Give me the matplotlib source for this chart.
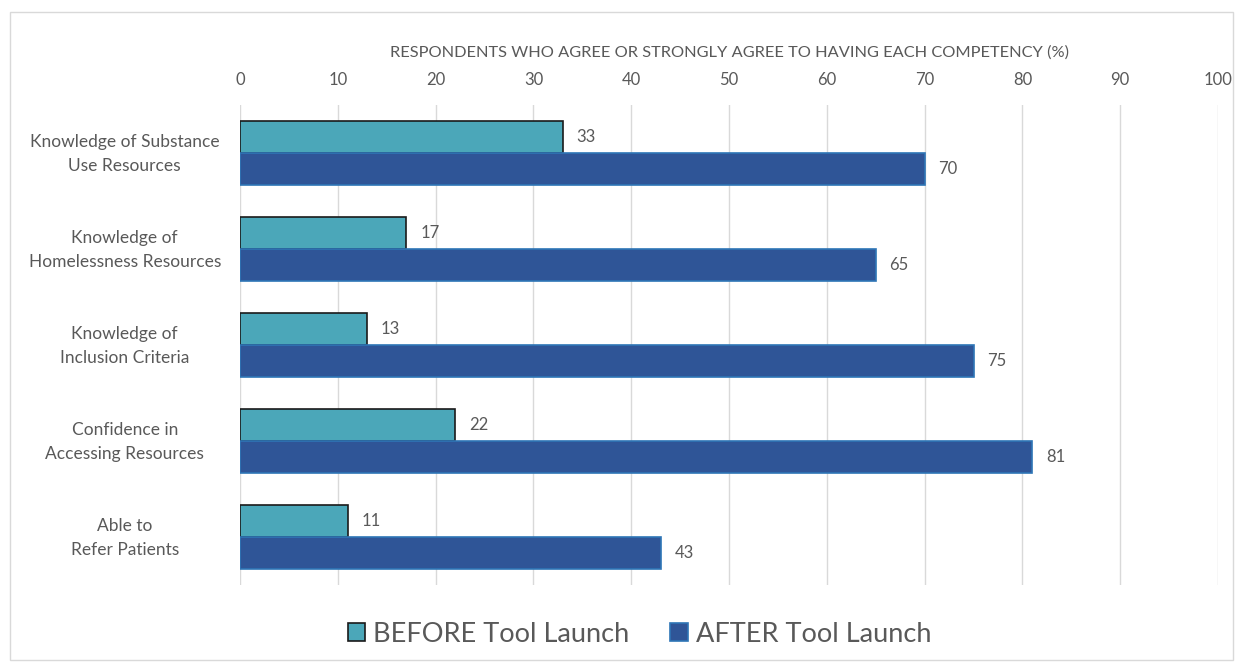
import matplotlib
matplotlib.use('Agg')
import matplotlib.pyplot as plt
import numpy as np
from matplotlib.patches import Rectangle

plt.rcParams['font.family'] = ['Lato', 'DejaVu Sans']

categories = ['Knowledge of Substance\nUse Resources',
              'Knowledge of\nHomelessness Resources',
              'Knowledge of\nInclusion Criteria',
              'Confidence in\nAccessing Resources',
              'Able to\nRefer Patients']
before = [33, 17, 13, 22, 11]
after = [70, 65, 75, 81, 43]
series_names = ['BEFORE Tool Launch', 'AFTER Tool Launch']

grey = '#595959'
fig = plt.figure(figsize=(12.43, 6.66), dpi=100)
fig.patches.append(Rectangle((10 / 1243, 6 / 666), 1223 / 1243, 648 / 666,
                             transform=fig.transFigure, fill=False,
                             edgecolor='#D9D9D9', linewidth=1))
ax = fig.add_axes([0.1931, 0.1216, 0.7868, 0.7207])

y = np.arange(len(categories))
h = 1 / 3
b1 = ax.barh(y - h / 2, before, height=h, color='#4BA7B9', edgecolor='#1a1a1a',
             linewidth=1.2, label=series_names[0], zorder=3)
b2 = ax.barh(y + h / 2, after, height=h, color='#2F5597', edgecolor='#2E75B6',
             linewidth=1.2, label=series_names[1], zorder=3)
for bars in (b1, b2):
    ax.bar_label(bars, padding=10, color=grey, fontsize=12)

ax.set_xlim(0, 100)
ax.set_ylim(len(categories) - 0.5, -0.5)
ax.set_xticks(range(0, 101, 10))
ax.xaxis.tick_top()
ax.xaxis.set_label_position('top')
ax.set_xlabel('RESPONDENTS WHO AGREE OR STRONGLY AGREE TO HAVING EACH COMPETENCY (%)',
              color=grey, fontsize=11.8, labelpad=11)
# labels sit slightly above the group centre, as in the original
ax.set_yticks(y - 0.05)
ax.set_yticklabels(categories, color=grey, fontsize=12.5, ha='center',
                   linespacing=1.6)
ax.tick_params(axis='y', length=0, pad=83)
ax.tick_params(axis='x', length=0, colors=grey, labelsize=12, pad=12)
ax.grid(axis='x', color='#D9D9D9', linewidth=1, zorder=0)
for s in ax.spines.values():
    s.set_visible(False)

fig.legend(handles=[b1, b2], loc='center', bbox_to_anchor=(0.5145, 0.048), ncol=2,
           frameon=False, fontsize=19.5, labelcolor=grey, handlelength=0.65,
           handleheight=0.65, columnspacing=1.5, handletextpad=0.3)

fig.savefig('out.png', dpi=100)
